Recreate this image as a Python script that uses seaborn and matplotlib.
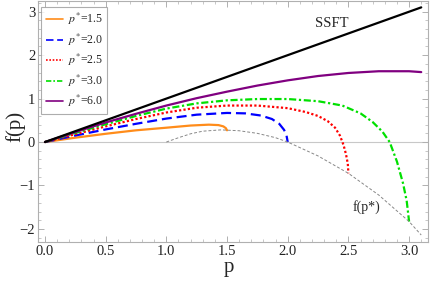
import pandas as pd
import seaborn as sns
import matplotlib.pyplot as plt
import matplotlib.ticker as ticker

# curves, one (p, f) list per p*
p_ssft = [0.0, 3.1]
f_ssft = [0.0, 3.1]

p_15 = [0, 0.25, 0.5, 0.75, 1.0, 1.2, 1.35, 1.43, 1.47, 1.49, 1.5]
f_15 = [0, 0.10, 0.19, 0.27, 0.33, 0.38, 0.40, 0.39, 0.36, 0.32, 0.27]

p_20 = [0, 0.25, 0.5, 0.75, 1.0, 1.25, 1.5, 1.65, 1.78, 1.87, 1.93, 1.97, 1.99, 2.0]
f_20 = [0, 0.15, 0.29, 0.42, 0.54, 0.63, 0.67, 0.66, 0.61, 0.53, 0.42, 0.28, 0.15, 0.0]

p_25 = [0, 0.25, 0.5, 0.75, 1.0, 1.25, 1.5, 1.75, 2.0, 2.15, 2.25, 2.33, 2.39, 2.43,
        2.46, 2.48, 2.495, 2.5]
f_25 = [0, 0.18, 0.36, 0.53, 0.68, 0.79, 0.84, 0.84, 0.78, 0.69, 0.60, 0.48, 0.33, 0.15,
        -0.07, -0.28, -0.50, -0.72]

p_30 = [0, 0.25, 0.5, 0.75, 1.0, 1.25, 1.5, 1.75, 2.0, 2.25, 2.45, 2.6, 2.7, 2.78,
        2.84, 2.9, 2.95, 2.98, 3.0]
f_30 = [0, 0.21, 0.41, 0.60, 0.77, 0.89, 0.96, 0.99, 0.99, 0.94, 0.84, 0.66, 0.46, 0.24,
        0.0, -0.45, -0.95, -1.35, -1.83]

p_60 = [0, 0.25, 0.5, 0.75, 1.0, 1.25, 1.5, 1.75, 2.0, 2.25, 2.5, 2.75, 3.0, 3.1]
f_60 = [0, 0.23, 0.45, 0.65, 0.84, 1.01, 1.16, 1.30, 1.42, 1.52, 1.59, 1.63, 1.63, 1.61]

# endpoint curve f(p*)
p_star = [1.0, 1.1, 1.2, 1.3, 1.45, 1.6, 1.75, 1.9, 2.0, 2.25, 2.5, 2.75, 3.0, 3.1]
f_star = [0.0, 0.10, 0.19, 0.25, 0.28, 0.26, 0.20, 0.10, 0.0, -0.32, -0.72, -1.22, -1.83, -2.14]

sns.set_theme(style="ticks")
plt.rcParams['font.family'] = ['Liberation Serif', 'DejaVu Serif']
plt.rcParams['mathtext.fontset'] = 'stix'

fig = plt.figure(figsize=(4.36, 2.86), dpi=100)
ax = fig.add_axes([0.087, 0.154, 0.895, 0.843])

ax.axhline(0, color='#c8c8c8', lw=0.8, zorder=0)

series = [
    (p_15, f_15, '#ff8c1a', '-', None, r'$p^{*}$=1.5'),
    (p_20, f_20, '#0000ff', '--', (4.5, 2.2), r'$p^{*}$=2.0'),
    (p_25, f_25, '#ff0000', ':', (1.0, 1.0), r'$p^{*}$=2.5'),
    (p_30, f_30, '#00e000', '-.', (3.2, 1.2, 1.0, 1.2), r'$p^{*}$=3.0'),
    (p_60, f_60, '#800080', '-', None, r'$p^{*}$=6.0'),
]
for px, fy, col, ls, dash, lab in series:
    df = pd.DataFrame({'p': px, 'f': fy})
    sns.lineplot(data=df, x='p', y='f', ax=ax, color=col, linestyle=ls, lw=1.6,
                 label=lab, estimator=None)
    if dash is not None:
        ax.lines[-1].set_dashes(dash)

sns.lineplot(x=p_ssft, y=f_ssft, ax=ax, color='black', lw=1.6, estimator=None)
sns.lineplot(x=p_star, y=f_star, ax=ax, color='#888888', lw=0.7, estimator=None)
ax.lines[-1].set_dashes((3, 2))

ax.text(2.36, 2.74, 'SSFT', fontsize=10.5, ha='center', va='center')
ax.text(2.65, -1.49, 'f(p*)', fontsize=10, ha='center', va='center')

ax.set_xlim(-0.058, 3.157)
ax.set_ylim(-2.3, 3.25)
ax.xaxis.set_major_locator(ticker.MultipleLocator(0.5))
ax.xaxis.set_minor_locator(ticker.MultipleLocator(0.1))
ax.yaxis.set_major_locator(ticker.MultipleLocator(1))
ax.yaxis.set_minor_locator(ticker.MultipleLocator(0.2))
ax.xaxis.set_major_formatter(ticker.FormatStrFormatter('%.1f'))
ax.yaxis.set_major_formatter(ticker.FuncFormatter(lambda v, _: f'{v:.0f}'.replace('-', '\u2212')))

for s in ax.spines.values():
    s.set_color('#b0b0b0')
    s.set_linewidth(0.8)
ax.tick_params(which='both', direction='in', top=True, right=True, colors='#b0b0b0',
               labelcolor='#222222', labelsize=10.5, pad=2)
ax.tick_params(which='major', length=4, width=0.7)
ax.tick_params(which='minor', length=2, width=0.5)

ax.set_xlabel('p', fontsize=15, va='center')
ax.set_ylabel('f(p)', fontsize=15, va='center')
ax.xaxis.set_label_coords(0.49, -0.105)
ax.yaxis.set_label_coords(-0.058, 0.48)

leg = ax.legend(loc='upper left', bbox_to_anchor=(0.0, 0.99), fontsize=8.5, frameon=True,
                fancybox=False, edgecolor='#999999', handlelength=1.5, handletextpad=0.4,
                labelspacing=0.36, borderpad=0.35, borderaxespad=0.3)
leg.get_frame().set_linewidth(0.8)
for h in leg.get_lines():
    h.set_linewidth(1.2)

plt.savefig('out.png', dpi=100)
